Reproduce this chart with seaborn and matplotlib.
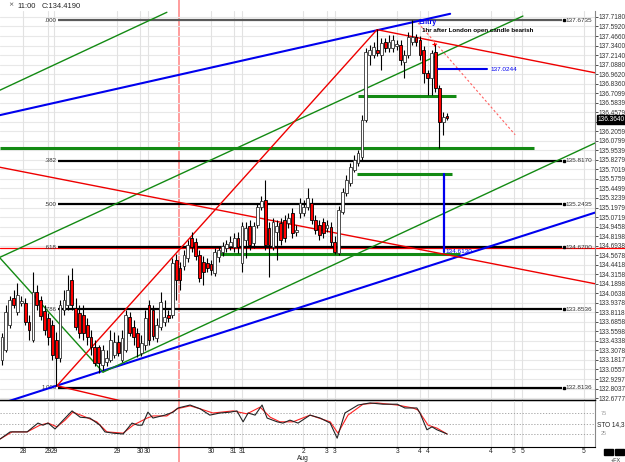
import numpy as np
import pandas as pd
import seaborn as sns
import matplotlib.pyplot as plt

sns.set_style("white")
plt.rcParams['font.family'] = ['Liberation Sans Narrow', 'Liberation Sans', 'DejaVu Sans']

# hourly candles, oldest first
opens = [133.18, 133.31, 133.64, 134.00, 133.82, 133.94, 133.94, 133.68, 133.45, 134.08,
         133.97, 133.83, 133.74, 133.64, 133.45, 133.21, 133.84, 133.91, 134.24, 133.87,
         133.80, 133.78, 133.64, 133.49, 133.35, 133.35, 133.12, 133.15, 133.18, 133.25,
         133.42, 133.18, 133.31, 133.75, 133.62, 133.54, 133.27, 133.38, 133.91, 133.84,
         133.47, 133.62, 133.68, 133.78, 133.78, 134.50, 134.40, 134.42, 134.53, 134.80,
         134.74, 134.57, 134.48, 134.46, 134.45, 134.33, 134.54, 134.61, 134.66, 134.69,
         134.68, 134.80, 134.46, 134.77, 134.95, 134.73, 134.97, 135.20, 135.30, 134.93,
         134.68, 134.87, 134.99, 135.03, 134.99, 135.12, 134.87, 135.12, 135.12, 135.20,
         135.26, 135.03, 134.97, 135.01, 134.93, 134.94, 134.74, 134.60, 135.14, 135.39,
         135.52, 135.69, 135.79, 135.87, 136.36, 137.22, 137.22, 137.28, 137.22, 137.39,
         137.31, 137.31, 137.33, 137.35, 137.12, 137.22, 137.39, 137.45, 137.41, 137.28,
         136.98, 136.91, 137.25, 136.78, 136.33, 136.41]
highs = [133.54, 133.91, 134.03, 134.11, 134.20, 134.03, 134.00, 133.78, 134.35, 134.17,
         134.03, 133.91, 133.80, 133.71, 133.55, 133.97, 134.11, 134.31, 134.40, 134.00,
         133.91, 133.91, 133.74, 133.58, 133.45, 133.38, 133.38, 133.31, 133.58, 133.55,
         133.51, 133.58, 133.84, 133.82, 133.71, 133.60, 133.51, 133.84, 133.97, 133.91,
         133.74, 134.08, 133.97, 133.84, 134.53, 134.58, 134.48, 134.64, 134.77, 134.87,
         134.80, 134.64, 134.56, 134.53, 134.50, 134.66, 134.69, 134.74, 134.77, 134.82,
         134.86, 134.87, 135.01, 135.01, 135.03, 135.01, 135.26, 135.35, 135.56, 135.01,
         135.06, 135.03, 135.06, 135.10, 135.12, 135.19, 134.97, 135.32, 135.30, 135.46,
         135.32, 135.10, 135.03, 135.06, 135.03, 135.01, 134.82, 135.22, 135.46, 135.63,
         135.79, 135.89, 135.96, 136.42, 137.31, 137.35, 137.39, 137.56, 137.44, 137.44,
         137.48, 137.48, 137.41, 137.41, 137.28, 137.52, 137.68, 137.49, 137.47, 137.34,
         137.02, 137.28, 137.36, 136.82, 136.46, 136.45]
lows = [133.12, 133.29, 133.60, 133.87, 133.78, 133.90, 133.64, 133.45, 133.42, 133.84,
        133.71, 133.51, 133.38, 133.18, 132.84, 133.15, 133.78, 133.84, 133.84, 133.58,
        133.47, 133.45, 133.38, 133.25, 133.10, 133.01, 133.05, 133.10, 133.15, 133.21,
        133.23, 133.15, 133.29, 133.50, 133.38, 133.22, 133.23, 133.31, 133.38, 133.45,
        133.42, 133.58, 133.63, 133.68, 133.74, 133.97, 134.11, 134.37, 134.48, 134.61,
        134.50, 134.21, 134.17, 134.35, 134.31, 134.29, 134.48, 134.56, 134.61, 134.64,
        134.61, 134.60, 134.35, 134.53, 134.64, 134.66, 134.93, 135.17, 134.64, 134.28,
        134.64, 134.50, 134.70, 134.74, 134.93, 134.80, 134.82, 135.06, 135.09, 135.17,
        134.98, 134.85, 134.77, 134.80, 134.87, 134.69, 134.58, 134.57, 135.11, 135.35,
        135.48, 135.67, 135.75, 135.83, 136.33, 137.08, 137.18, 137.20, 137.02, 137.26,
        137.26, 137.26, 137.28, 137.08, 136.91, 137.18, 137.35, 137.33, 137.15, 136.85,
        136.69, 136.69, 136.73, 135.99, 136.16, 136.36]
closes = [133.49, 133.82, 133.97, 133.91, 134.04, 133.96, 133.68, 133.58, 134.08, 133.91,
          133.76, 133.58, 133.49, 133.25, 133.21, 133.91, 133.97, 134.11, 133.91, 133.62,
          133.54, 133.54, 133.49, 133.35, 133.14, 133.14, 133.31, 133.21, 133.45, 133.42,
          133.27, 133.47, 133.78, 133.54, 133.49, 133.35, 133.41, 133.74, 133.45, 133.50,
          133.64, 133.95, 133.75, 133.74, 134.46, 134.24, 134.24, 134.57, 134.70, 134.68,
          134.56, 134.27, 134.35, 134.40, 134.37, 134.61, 134.64, 134.69, 134.72, 134.74,
          134.80, 134.68, 134.95, 134.93, 134.70, 134.95, 135.20, 135.28, 134.70, 134.70,
          135.01, 134.95, 134.77, 134.80, 135.06, 134.86, 134.90, 135.26, 135.20, 135.32,
          135.03, 134.90, 134.83, 134.86, 134.97, 134.74, 134.61, 135.17, 135.40, 135.56,
          135.73, 135.83, 135.92, 136.36, 137.26, 137.28, 137.32, 137.24, 137.37, 137.31,
          137.39, 137.41, 137.36, 137.15, 137.22, 137.45, 137.45, 137.39, 137.22, 136.98,
          136.91, 137.24, 136.78, 136.33, 136.40, 136.38]

price_ticks = ['137.7180', '137.5920', '137.4660', '137.3400', '137.2140', '137.0880',
               '136.9620', '136.8360', '136.7099', '136.5839', '136.4579', '136.3319',
               '136.2059', '136.0799', '135.9539', '135.8279', '135.7019', '135.5759',
               '135.4499', '135.3239', '135.1979', '135.0719', '134.9458', '134.8198',
               '134.6938', '134.5678', '134.4418', '134.3158', '134.1898', '134.0638',
               '133.9378', '133.8118', '133.6858', '133.5598', '133.4338', '133.3078',
               '133.1817', '133.0557', '132.9297', '132.8037', '132.6777']

date_pos = [5.4, 11.9, 13.4, 29.7, 35.7, 37.7, 54.0, 59.9, 62.0, 77.8,
            84.0, 86.0, 102.1, 108.0, 110.1, 126.4, 132.3, 134.4, 150.4]
date_lbl = ['28', '29', '29', '29', '30', '30', '30', '31', '31', '2',
            '3', '3', '3', '4', '4', '4', '5', '5', '5']

fib_levels = [137.6735, 135.8170, 135.2435, 134.6700, 133.8536, 132.8136]
fib_names = ['.000', '.382', '.500', '.618', '.786', '1.000']
fib_start, fib_end = 14.5, 144.7

# trend lines: (bar1, price1, bar2, price2)
blue_trend = [(-0.52, 136.42, 115.8, 137.76), (-0.52, 132.60, 153.2, 135.13)]
green_trend = [(-0.52, 136.75, 42.6, 137.78), (-0.52, 134.54, 134.6, 137.73),
               (-0.52, 134.53, 26.1, 133.02), (26.1, 133.02, 153.2, 136.05)]
red_trend = [(-0.52, 135.73, 153.2, 134.19), (96.9, 137.55, 153.2, 136.98),
             (14.2, 132.84, 96.9, 137.55), (14.2, 132.84, 35.7, 132.58)]
red_dotted = (107.5, 137.64, 132.6, 136.16)

green_levels = [135.98, 136.67, 135.64, 134.58]
green_from = [-0.52, 92.0, 91.7, 55.0]
green_to = [137.5, 117.3, 116.3, 118.3]
red_level = 134.66
target_level = 137.0244
target_span = (112.7, 125.3)
stop_bar = 114.2
stop_span = (135.64, 134.613)
marker_bar = 45.7
last_price = 136.364

sto_k_x = [-0.5, 2.1, 6.5, 9.3, 10.6, 11.9, 13.7, 15.8, 18.1, 20.2, 22.7, 25.3, 26.6, 28.7,
           31.3, 33.6, 35.1, 36.2, 37.7, 39.0, 42.1, 44.2, 45.5, 48.6, 51.2, 53.7, 56.3,
           58.9, 60.7, 62.3, 63.6, 65.4, 67.2, 68.5, 71.1, 72.6, 74.4, 76.5, 79.6, 82.2,
           84.8, 86.6, 88.6, 92.0, 95.1, 98.4, 102.1, 104.1, 107.2, 108.0, 109.8, 111.1,
           112.4, 115.0]
sto_k = [13, 30, 30, 51, 46, 51, 37, 58, 80, 65, 63, 46, 30, 27,
         25, 51, 46, 46, 77, 63, 70, 77, 87, 94, 85, 70, 75,
         77, 80, 54, 75, 70, 94, 63, 54, 51, 58, 51, 70, 63,
         51, 15, 75, 94, 99, 96, 96, 87, 87, 75, 35, 42,
         35, 25]
sto_d_x = [-0.5, 2.6, 6.5, 9.8, 11.9, 14.2, 16.3, 18.3, 20.9, 24.5, 27.1, 31.3, 33.9, 37.5,
           39.0, 42.6, 45.2, 48.6, 51.2, 54.5, 59.7, 63.3, 66.7, 69.3, 71.8, 75.2, 79.6,
           84.8, 86.8, 89.4, 93.3, 96.9, 102.1, 106.2, 107.5, 110.1, 112.4, 115.0]
sto_d = [13, 30, 30, 46, 51, 42, 58, 77, 68, 54, 30, 27, 46, 63,
         68, 68, 85, 92, 85, 75, 80, 73, 89, 65, 54, 54, 70,
         54, 27, 70, 96, 99, 94, 87, 82, 46, 39, 25]

df = pd.DataFrame({'open': opens, 'high': highs, 'low': lows, 'close': closes})
df['bar'] = np.arange(len(df))

W, H = 625, 462
fig = plt.figure(figsize=(6.25, 4.62), dpi=100)
ax = fig.add_axes([0, 62 / H, 595 / W, 389 / H])
sax = fig.add_axes([0, 15 / H, 595 / W, 47 / H])
for a in (ax, sax):
    a.set_facecolor('none')
    a.set_xlim(-0.52, 153.23)

# red time marker through everything
fig.add_artist(plt.Line2D([179 / W, 179 / W], [0, 1], transform=fig.transFigure,
                          color='#ff9c9c', lw=1.4, zorder=-1))

ax.set_ylim(132.652, 137.797)
tick_vals = [float(t) for t in price_ticks]
for v in tick_vals:
    ax.axhline(v, color='#e8e8e8', lw=0.8, zorder=0)
for d in date_pos:
    ax.axvline(d, color='#e2e2e2', lw=0.8, zorder=0)
    sax.axvline(d, color='#e2e2e2', lw=0.8, zorder=0)

# horizontal levels
ax.axhline(red_level, color='red', lw=0.9, zorder=2)
for lvl, a, b in zip(green_levels, green_from, green_to):
    ax.plot([a, b], [lvl, lvl], color='#138a13', lw=2.2, zorder=2, solid_capstyle='butt')
for i, (lvl, name) in enumerate(zip(fib_levels, fib_names)):
    ax.plot([fib_start, fib_end], [lvl, lvl], color='#5a5a5a' if i == 0 else 'black',
            lw=1.6, zorder=2, solid_capstyle='butt')
    ax.text(fib_start - 0.4, lvl, name, ha='right', va='center', fontsize=4.4, color='#333')
    ax.plot(fib_end + 0.5, lvl, 's', ms=1.6, color='black')
    ax.text(fib_end + 1.0, lvl, f'{lvl:.4f}', ha='left', va='center', fontsize=4.6, color='#333')

# trend lines
for x1, p1, x2, p2 in blue_trend:
    ax.plot([x1, x2], [p1, p2], color='#0000ee', lw=1.5, zorder=3)
for x1, p1, x2, p2 in green_trend:
    ax.plot([x1, x2], [p1, p2], color='#138a13', lw=1.0, zorder=3)
for x1, p1, x2, p2 in red_trend:
    ax.plot([x1, x2], [p1, p2], color='#ee0000', lw=1.0, zorder=3)
ax.plot([red_dotted[0], red_dotted[2]], [red_dotted[1], red_dotted[3]],
        color='#ff6060', lw=0.8, ls=(0, (2, 2)), zorder=3)

# candles
ax.vlines(df['bar'], df['low'], df['high'], color='black', lw=0.8, zorder=4)
up = df['close'] >= df['open']
body = (df['close'] - df['open']).abs().clip(lower=0.012)
bottom = df[['open', 'close']].min(axis=1)
ax.bar(df['bar'][up], body[up], bottom=bottom[up], width=0.72, color='white',
       edgecolor='#333', linewidth=0.6, zorder=5)
ax.bar(df['bar'][~up], body[~up], bottom=bottom[~up], width=0.72, color='#ff0000',
       edgecolor='black', linewidth=0.6, zorder=5)

# trade plan marks
ax.plot(target_span, [target_level, target_level], color='#0000ee', lw=1.5, zorder=6)
ax.text(target_span[1] + 0.8, target_level, f'{target_level:.4f}', color='#0000ee',
        fontsize=4.6, va='center')
ax.plot([stop_bar, stop_bar], stop_span, color='#0000ee', lw=1.6, zorder=6)
ax.text(stop_bar + 0.5, stop_span[1], f'{stop_span[1]:.4f}', color='#0000ee',
        fontsize=4.6, va='center')
ax.plot(111.6, 137.36, '+', color='red', ms=3, mew=0.8, zorder=7)
ax.text(107.5, 137.645, 'Entry', color='#0000ee', fontsize=5, fontweight='bold', va='center')
ax.text(108.4, 137.535, '1hr after London open candle bearish', color='black',
        fontsize=4.5, fontweight='bold', va='center')

# price axis on the right
ax.yaxis.tick_right()
ax.set_yticks(tick_vals, price_ticks)
ax.tick_params(axis='y', labelsize=4.7, length=2, width=0.6, pad=0.8, colors='#333')
ax.set_xticks([])
ax.axhline(red_level, xmin=1.0, xmax=1.05, color='red', lw=0.9, clip_on=False)
ax.text(1.004, last_price, f'{last_price:.4f}', transform=ax.get_yaxis_transform(),
        fontsize=4.7, color='white', va='center', ha='left', zorder=10,
        bbox=dict(boxstyle='square,pad=0.12', fc='black', ec='black'))
for s in ('left', 'top'):
    ax.spines[s].set_visible(False)
ax.spines['right'].set_color('#888')
ax.spines['bottom'].set_color('black')
ax.spines['bottom'].set_linewidth(1.0)

# stochastic panel
sax.set_ylim(-6, 106)
for lv in (25, 50, 75):
    sax.axhline(lv, color='#9a9a9a', lw=0.6, ls=(0, (1.5, 2)), zorder=1)
sns.lineplot(x=sto_d_x, y=sto_d, ax=sax, color='#ff2020', lw=0.8, zorder=3)
sns.lineplot(x=sto_k_x, y=sto_k, ax=sax, color='#222', lw=0.8, zorder=4)
sax.set_yticks([])
sax.set_xticks(date_pos, date_lbl)
sax.tick_params(axis='x', labelsize=4.8, length=0, pad=1.0, colors='#222')
fig.text(303 / W, 0.3 / H, 'Aug', fontsize=4.8, ha='center', va='bottom', color='#222')
sax.text(1.01, 75, '75', transform=sax.get_yaxis_transform(), fontsize=4.0, color='#999', va='center')
sax.text(1.01, 25, '25', transform=sax.get_yaxis_transform(), fontsize=4.0, color='#999', va='center')
sax.text(1.004, 48, 'STO 14,3', transform=sax.get_yaxis_transform(), fontsize=4.7, color='#222', va='center')
sax.spines['left'].set_visible(False)
sax.spines['top'].set_color('black')
sax.spines['bottom'].set_color('black')
sax.spines['right'].set_color('#888')

# header and corner
fig.text(17 / W, 1 - 6 / H, '11:00', fontsize=5.4, va='center', color='#222')
fig.text(42 / W, 1 - 6 / H, 'C:134.4190', fontsize=5.4, va='center', color='#222')
fig.text(8 / W, 1 - 5 / H, '\u2a2f', fontsize=4.5, va='center', color='#444')
for x0 in (604, 615):
    fig.add_artist(plt.Rectangle((x0 / W, 1 - 455 / H), 9 / W, 6 / H,
                                 transform=fig.transFigure, color='black'))
fig.text(611 / W, 1 - 460 / H, '+FX', fontsize=4.0, va='center', color='#333')

fig.savefig('out.png', dpi=100, facecolor='white')
